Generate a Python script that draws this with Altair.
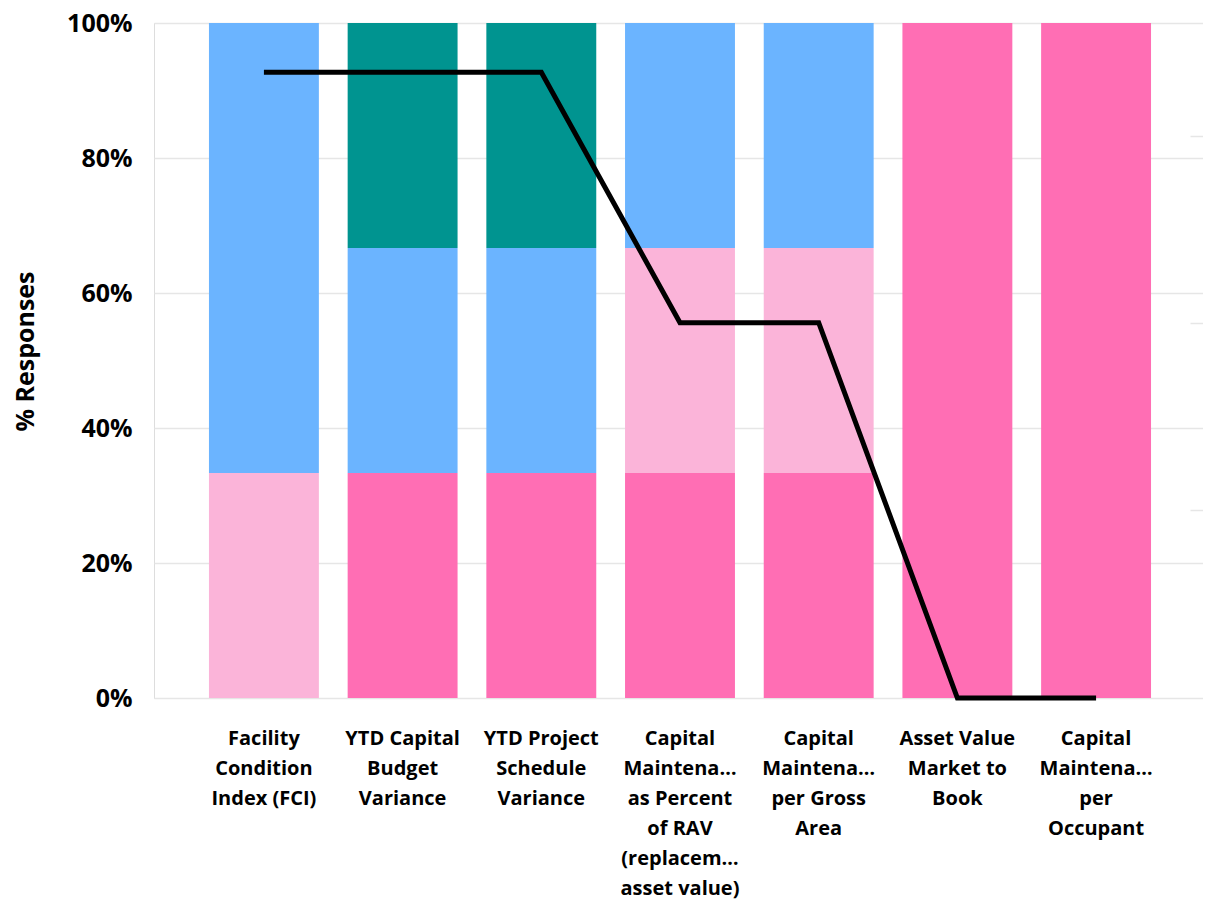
import altair as alt
import pandas as pd

categories = [
    "Facility\nCondition\nIndex (FCI)",
    "YTD Capital\nBudget\nVariance",
    "YTD Project\nSchedule\nVariance",
    "Capital\nMaintena…\nas Percent\nof RAV\n(replacem…\nasset value)",
    "Capital\nMaintena…\nper Gross\nArea",
    "Asset Value\nMarket to\nBook",
    "Capital\nMaintena…\nper\nOccupant",
]
series = ["Level 1", "Level 2", "Level 3", "Level 4"]
colors = ["#FF6EB4", "#FBB4D9", "#6BB4FF", "#009490"]
# response counts per category (bottom to top)
level1 = [0, 1, 1, 1, 1, 3, 3]
level2 = [1, 0, 0, 1, 1, 0, 0]
level3 = [2, 1, 1, 1, 1, 0, 0]
level4 = [0, 1, 1, 0, 0, 0, 0]
line_values = [0.927, 0.927, 0.927, 0.556, 0.556, 0.0, 0.0]
right_ticks = [0.2778, 0.5556, 0.8333]

rows = []
for i, c in enumerate(categories):
    for j, (s, vals) in enumerate(zip(series, [level1, level2, level3, level4])):
        rows.append({"category": c, "series": s, "order": j, "count": vals[i]})
bars_df = pd.DataFrame(rows)
line_df = pd.DataFrame({"category": categories, "score": line_values})

FONT = "Open Sans"

x_enc = alt.X(
    "category:N",
    sort=categories,
    scale=alt.Scale(paddingInner=0.2075, paddingOuter=0.3855, align=0.514),
    axis=alt.Axis(
        title=None,
        labelAngle=0,
        labelExpr="split(datum.label, '\\n')",
        labelFontSize=20,
        labelFontWeight="bold",
        labelFont=FONT,
        labelColor="#000000",
        labelLineHeight=30,
        labelPadding=30,
        labelBaseline="top",
        domain=False,
        ticks=False,
        labelLimit=200,
    ),
)

bars = alt.Chart(bars_df).mark_bar().encode(
    x=x_enc,
    y=alt.Y(
        "count:Q",
        stack="normalize",
        scale=alt.Scale(domain=[0, 1], nice=False),
        axis=alt.Axis(
            title="% Responses",
            format=".0%",
            values=[0, 0.2, 0.4, 0.6, 0.8, 1.0],
            labelFontSize=25,
            labelFontWeight="bold",
            labelFont=FONT,
            labelColor="#000000",
            labelPadding=22,
            titleFontSize=25,
            titleFont=FONT,
            titleFontWeight="bold",
            titleColor="#000000",
            titleAngle=-90,
            titleBaseline="middle",
            titleX=-129,
            titleY=328,
            domain=False,
            ticks=False,
            gridColor="#E6E6E6",
            gridWidth=1.5,
        ),
    ),
    color=alt.Color(
        "series:N",
        scale=alt.Scale(domain=series, range=colors),
        legend=None,
    ),
    order=alt.Order("order:Q", sort="ascending"),
)

line = alt.Chart(line_df).mark_line(color="#000000", strokeWidth=5, strokeJoin="miter").encode(
    x=alt.X("category:N", sort=categories),
    y=alt.Y(
        "score:Q",
        scale=alt.Scale(domain=[0, 1], nice=False),
        axis=alt.Axis(
            title=None,
            orient="right",
            values=right_ticks,
            labels=False,
            domain=False,
            grid=False,
            ticks=True,
            tickColor="#E6E6E6",
            tickWidth=1.5,
            tickSize=13,
            offset=-13,
        ),
    ),
)

chart = (
    alt.layer(bars, line)
    .resolve_scale(y="independent")
    .properties(
        width=1049,
        height=675,
        padding={"left": 146, "top": 15, "right": 0, "bottom": 203},
        autosize=alt.AutoSizeParams(type="none"),
    )
    .configure_view(stroke=None)
    .configure(background="#FFFFFF")
)

chart.save("out.html", embed_options={"renderer": "svg", "actions": False})
